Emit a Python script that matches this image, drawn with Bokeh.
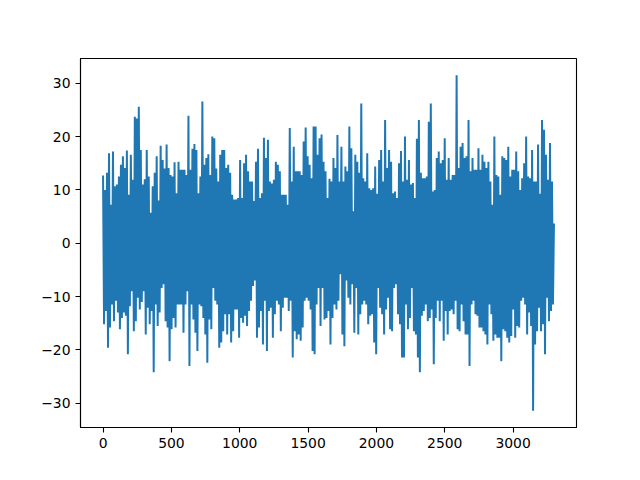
import numpy as np
from bokeh.plotting import figure
from bokeh.models import Range1d, FixedTicker, ColumnDataSource
from bokeh.embed import file_html
from bokeh.resources import INLINE

# Number of samples in the series (index runs 0 .. n_points-1)
n_points = 3300

# Local upper extremes of the noisy series, read left to right (about every 15 samples)
upper = [
    12.7, 10.0, 13.2, 16.9, 7.2, 17.2, 10.7, 11.0, 12.5, 14.7, 16.3, 14.1, 17.4, 9.1,
    16.6, 11.9, 23.7, 23.4, 25.6, 17.5, 11.0, 12.0, 17.5, 12.5, 5.7, 10.7, 13.2,
    16.3, 8.0, 18.3, 15.6, 14.0, 18.5, 14.1, 12.8, 12.5, 15.2, 9.4, 15.3, 13.8, 13.8, 13.8,
    12.8, 23.9, 13.8, 17.7, 18.6, 17.5, 9.4, 12.5, 26.6, 14.7, 16.0, 16.7, 12.8, 20.0,
    19.7, 14.0, 11.6, 16.6, 17.5, 17.5, 14.1, 14.7, 13.2, 9.1, 8.2, 8.2, 8.5, 15.6, 8.5,
    15.0, 16.6, 13.5, 11.6, 11.6, 7.9, 15.3, 17.7, 8.5, 9.4, 19.8, 16.0, 19.4, 11.6,
    11.2, 11.9, 15.3, 14.7, 13.5, 9.1, 9.1, 9.1, 7.2, 21.6, 11.6, 18.1, 13.5, 13.5, 13.5,
    12.8, 19.1, 21.7, 16.3, 14.7, 12.2, 21.9, 21.9, 16.6, 19.7, 20.4, 15.3, 13.5, 8.5,
    12.1, 11.6, 16.0, 14.1, 20.3, 11.6, 18.1, 11.6, 14.4, 13.5, 21.9, 17.8, 6.0, 16.6, 15.3,
    13.2, 26.2, 12.2, 11.6, 16.9, 10.3, 10.0, 10.3, 14.4, 9.3, 15.6, 17.5, 11.6, 23.1,
    14.1, 17.5, 15.3, 9.4, 9.7, 8.5, 15.0, 17.3, 11.6, 20.0, 11.9, 15.6, 11.0, 11.3, 8.5,
    19.6, 23.1, 13.2, 12.2, 12.2, 12.5, 22.8, 26.2, 9.7, 10.0, 16.0, 17.2, 15.0, 15.6,
    19.7, 11.9, 16.0, 11.9, 12.8, 12.8, 31.5, 14.1, 18.1, 18.8, 16.0, 16.3, 23.1, 13.5, 16.0,
    13.8, 13.8, 17.8, 13.8, 16.6, 15.3, 14.1, 15.3, 11.6, 7.2, 20.0, 12.8, 12.5, 9.1,
    16.3, 16.0, 15.6, 18.1, 12.5, 13.8, 13.8, 17.2, 13.5, 10.0, 12.2, 15.0, 20.0,
    12.5, 12.2, 17.5, 11.6, 11.6, 18.5, 9.3, 23.1, 21.3, 16.6, 11.9, 18.8, 11.6,
]

# Local lower extremes of the series, read left to right (same spacing)
lower = [
    -15.2, -12.7, -19.6, -15.8, -11.5, -14.6, -10.8, -13.0, -16.1, -14.0, -13.0, -13.6, -20.8, -11.8,
    -9.0, -16.5, -14.6, -10.2, -12.4, -11.0, -9.0, -17.1, -12.1, -15.2, -12.7, -24.2, -11.5,
    -15.5, -13.0, -8.4, -7.7, -14.6, -15.8, -22.1, -16.1, -14.0, -15.8, -11.5, -11.5, -11.5, -16.8, -11.5,
    -9.0, -23.0, -11.5, -14.3, -16.8, -20.2, -11.5, -11.8, -14.0, -17.1, -22.4, -14.3, -16.1, -8.4,
    -10.8, -11.5, -19.6, -18.6, -16.5, -13.3, -17.1, -13.3, -18.6, -16.5, -12.4, -12.4, -17.7, -14.0, -14.9,
    -13.6, -15.5, -12.7, -10.8, -8.0, -7.0, -17.7, -15.8, -12.7, -19.0, -10.8, -20.2, -12.7, -12.1,
    -17.7, -13.3, -10.8, -11.5, -16.5, -12.1, -10.2, -10.2, -12.7, -10.8, -21.4, -16.5, -18.0, -17.1, -18.3,
    -15.8, -10.8, -10.2, -10.8, -12.4, -20.2, -20.8, -11.5, -8.4, -15.5, -8.4, -14.3, -14.0, -12.7,
    -19.0, -14.0, -11.5, -12.4, -10.8, -5.8, -17.1, -19.3, -7.0, -10.2, -11.5, -7.7, -16.8, -8.4, -17.1,
    -13.3, -11.5, -10.8, -11.5, -15.2, -13.6, -13.3, -18.6, -20.8, -8.4, -12.1, -13.3, -17.1, -12.4,
    -10.2, -16.1, -16.5, -8.4, -7.7, -13.3, -15.2, -21.4, -21.4, -11.5, -16.1, -14.0, -8.4, -16.5, -17.1,
    -21.4, -24.2, -13.6, -12.7, -11.5, -14.6, -14.0, -12.4, -22.7, -14.0, -10.8, -14.6, -10.8, -18.3,
    -12.7, -17.1, -12.7, -12.4, -13.3, -10.8, -16.1, -16.5, -11.5, -14.6, -17.1, -17.1, -23.0, -11.5, -10.8,
    -13.3, -13.6, -15.8, -15.8, -16.5, -17.1, -19.0, -11.5, -13.3, -18.3, -17.1, -17.7, -17.7, -22.1,
    -16.1, -16.5, -17.7, -18.6, -17.4, -12.4, -17.7, -15.5, -15.8, -10.8, -10.2, -11.5, -17.1,
    -13.0, -15.5, -31.4, -19.0, -16.5, -12.1, -16.5, -15.2, -20.8, -10.2, -14.6, -12.7, -11.5,
]

last_value = 3.7

x_ticks = [0, 500, 1000, 1500, 2000, 2500, 3000]
y_ticks = [-30, -20, -10, 0, 10, 20, 30]

# Build the series: alternate between upper and lower extremes
ys = []
for t, b in zip(upper, lower):
    ys.append(t)
    ys.append(b)
ys.append(last_value)
xs = np.linspace(0, n_points - 1, len(ys))

src = ColumnDataSource(dict(x=xs, y=ys))

xmin, xmax = 0, n_points - 1
xm = 0.05 * (xmax - xmin)
ymin, ymax = min(ys), max(ys)
ym = 0.05 * (ymax - ymin)

W, H = 640, 480
p = figure(width=W, height=H, output_backend="svg", toolbar_location=None,
           x_range=Range1d(xmin - xm, xmax + xm), y_range=Range1d(ymin - ym, ymax + ym),
           min_border_left=80, min_border_right=64, min_border_top=58, min_border_bottom=53)
p.background_fill_color = "white"
p.border_fill_color = "white"
p.grid.visible = False
p.outline_line_color = "black"
p.outline_line_width = 1.1

p.line("x", "y", source=src, line_color="#1f77b4", line_width=2.0)

for ax in (p.xaxis[0], p.yaxis[0]):
    ax.axis_line_color = "black"
    ax.axis_line_width = 1.1
    ax.major_tick_line_color = "black"
    ax.major_tick_line_width = 1.1
    ax.major_tick_out = 5
    ax.major_tick_in = 0
    ax.minor_tick_line_color = None
    ax.major_label_text_font = "DejaVu Sans"
    ax.major_label_text_font_size = "13.9px"
    ax.major_label_text_color = "black"
    ax.major_label_standoff = 5

p.xaxis.ticker = FixedTicker(ticks=x_ticks)
p.yaxis.ticker = FixedTicker(ticks=y_ticks)
p.yaxis.major_label_overrides = {t: (str(t).replace("-", "\u2212")) for t in y_ticks}
p.xaxis.major_label_overrides = {t: str(t) for t in x_ticks}

open("out.html", "w").write(file_html(p, INLINE))
